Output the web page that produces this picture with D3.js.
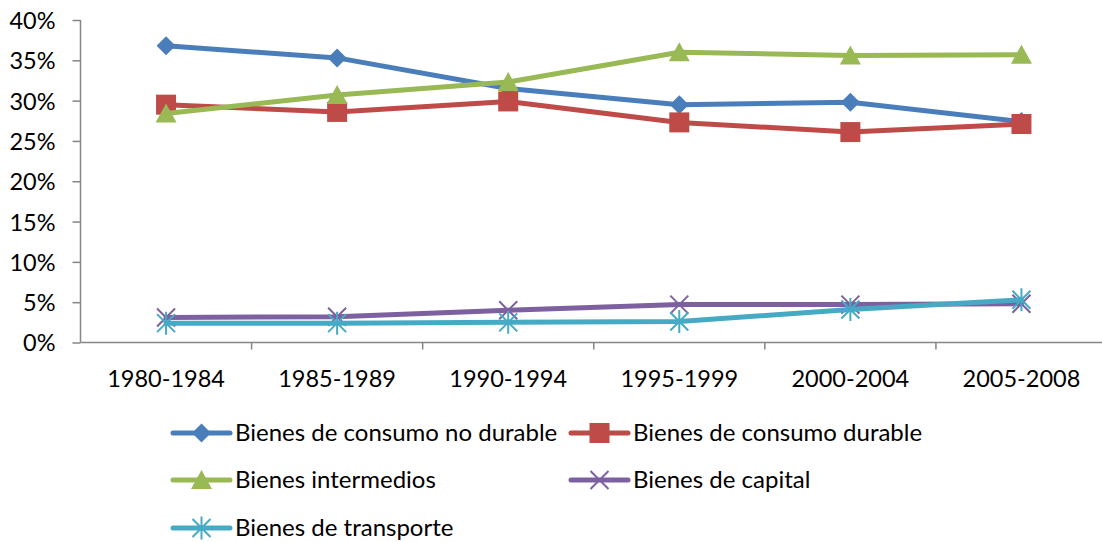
<!DOCTYPE html>
<html>
<head>
<meta charset="utf-8">
<script src="https://cdn.jsdelivr.net/npm/d3@7"></script>
<style>
  body { margin: 0; background: #fff; }
  text { font-family: Lato, "Open Sans", sans-serif; }
</style>
</head>
<body>
<div id="chart"></div>
<script>
// categories and series (percent)
var periods = ["1980-1984", "1985-1989", "1990-1994", "1995-1999", "2000-2004", "2005-2008"];
var noDurable = [36.8, 35.3, 31.5, 29.5, 29.8, 27.4];
var durable = [29.5, 28.6, 29.9, 27.3, 26.1, 27.1];
var intermedios = [28.4, 30.7, 32.3, 36.0, 35.6, 35.7];
var capital = [3.1, 3.2, 4.0, 4.7, 4.7, 4.8];
var transporte = [2.4, 2.4, 2.5, 2.6, 4.1, 5.3];
var yTicks = [0, 5, 10, 15, 20, 25, 30, 35, 40];

var series = [
    { name: "Bienes de consumo no durable", values: noDurable, color: "#4A7EBB", marker: "diamond" },
    { name: "Bienes de consumo durable", values: durable, color: "#BE4B48", marker: "square" },
    { name: "Bienes intermedios", values: intermedios, color: "#98B954", marker: "triangle" },
    { name: "Bienes de capital", values: capital, color: "#7D60A0", marker: "x" },
    { name: "Bienes de transporte", values: transporte, color: "#46AAC5", marker: "star" }
];

var w = 1102;
var h = 542;

var svg = d3.select("#chart")
    .append("svg")
    .attr("width", w)
    .attr("height", h);

var x = d3.scaleBand()
    .domain(periods)
    .range([80.5, 1107]);

var y = d3.scaleLinear()
    .domain([0, 40])
    .range([342.5, 20]);

// y axis
var yAxis = d3.axisLeft(y)
    .tickValues(yTicks)
    .tickSize(8)
    .tickFormat(function (d) { return d + "%"; });

var gy = svg.append("g")
    .attr("transform", "translate(80.5,0)")
    .call(yAxis);
gy.selectAll("path, line").attr("stroke", "#868686").attr("stroke-width", 1.5);
gy.select(".domain").attr("d", "M0," + y(40) + "V" + y(0));
gy.selectAll("text")
    .attr("x", -25)
    .attr("dy", "0.36em")
    .attr("font-size", 23.5)
    .attr("fill", "#000")
    .style("font-family", "Lato, sans-serif");

// x axis, ticks at band edges
var gx = svg.append("g")
    .attr("transform", "translate(0," + y(0) + ")");
gx.append("line")
    .attr("x1", 80.5).attr("x2", 1107)
    .attr("stroke", "#868686").attr("stroke-width", 1.5);
gx.selectAll("line.tick")
    .data(periods)
    .enter()
    .append("line")
    .attr("class", "tick")
    .attr("x1", function (d) { return x(d) + x.bandwidth(); })
    .attr("x2", function (d) { return x(d) + x.bandwidth(); })
    .attr("y1", 0).attr("y2", 7)
    .attr("stroke", "#868686").attr("stroke-width", 1.5);
gx.selectAll("text")
    .data(periods)
    .enter()
    .append("text")
    .attr("x", function (d) { return x(d) + x.bandwidth() / 2; })
    .attr("y", 44)
    .attr("text-anchor", "middle")
    .attr("font-size", 23.5)
    .text(function (d) { return d; });

// marker drawing
function drawMarker(g, type, color) {
    if (type === "diamond") {
        g.append("path").attr("d", "M0,-9.5L9.5,0L0,9.5L-9.5,0Z").attr("fill", color);
    } else if (type === "square") {
        g.append("rect").attr("x", -10).attr("y", -10).attr("width", 20).attr("height", 20).attr("fill", color);
    } else if (type === "triangle") {
        g.append("path").attr("d", "M0,-10L10.5,9L-10.5,9Z").attr("fill", color);
    } else if (type === "x") {
        g.append("path").attr("d", "M-9,-9L9,9M-9,9L9,-9").attr("stroke", color).attr("stroke-width", 2);
    } else if (type === "star") {
        g.append("path").attr("d", "M-9,-9L9,9M-9,9L9,-9M0,-11.5V11.5").attr("stroke", color).attr("stroke-width", 2);
    }
}

var line = d3.line()
    .x(function (d, i) { return x(periods[i]) + x.bandwidth() / 2; })
    .y(function (d) { return y(d); });

series.forEach(function (s) {
    svg.append("path")
        .datum(s.values)
        .attr("d", line)
        .attr("fill", "none")
        .attr("stroke", s.color)
        .attr("stroke-width", 5)
        .attr("stroke-linejoin", "round")
        .attr("stroke-linecap", "round");

    svg.selectAll(null)
        .data(s.values)
        .enter()
        .append("g")
        .attr("transform", function (d, i) {
            return "translate(" + (x(periods[i]) + x.bandwidth() / 2) + "," + y(d) + ")";
        })
        .each(function () { drawMarker(d3.select(this), s.marker, s.color); });
});

// legend
var legendPos = [
    [173, 433], [571, 433],
    [173, 480], [571, 480],
    [173, 528]
];

series.forEach(function (s, i) {
    var lg = svg.append("g")
        .attr("transform", "translate(" + legendPos[i][0] + "," + legendPos[i][1] + ")");
    lg.append("line")
        .attr("x1", 0).attr("x2", 57)
        .attr("stroke", s.color)
        .attr("stroke-width", 5)
        .attr("stroke-linecap", "round");
    var m = lg.append("g").attr("transform", "translate(28.5,0)");
    drawMarker(m, s.marker, s.color);
    lg.append("text")
        .attr("x", 62)
        .attr("y", 0)
        .attr("dy", "0.35em")
        .attr("font-size", 24)
        .text(s.name);
});
</script>
</body>
</html>
